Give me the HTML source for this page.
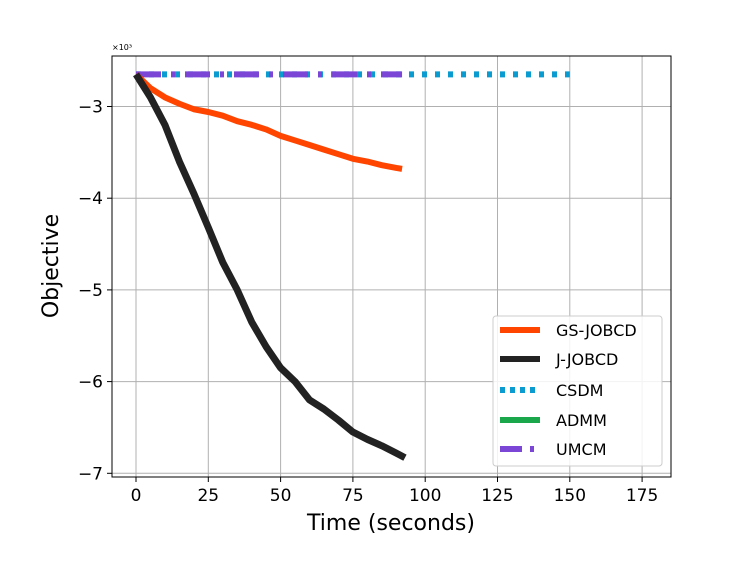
<!DOCTYPE html>
<html><head><meta charset="utf-8"><style>
body{margin:0;background:#fff;font-family:"DejaVu Sans","Liberation Sans",sans-serif}
</style></head><body>
<svg id="chart" width="747" height="561" xmlns="http://www.w3.org/2000/svg">
<g id="grid"></g>
<g id="series"></g>
<rect x="112" y="56" width="559" height="421" fill="none" stroke="#000" stroke-width="1"/>
<g id="ticks" font-size="17"></g>
<text x="112" y="50" font-size="8">×10³</text>
<text x="391" y="530" font-size="22" text-anchor="middle">Time (seconds)</text>
<text transform="translate(58,266) rotate(-90)" font-size="22" text-anchor="middle">Objective</text>
<g>
<rect x="493" y="316" width="169" height="150" rx="3" fill="#fff" fill-opacity="0.85" stroke="#ccc"/>
<g><line x1="500" y1="330" x2="540" y2="330" stroke="#ff4500" stroke-width="6"/><text x="556" y="336" font-size="16">GS-JOBCD</text></g>
<g><line x1="500" y1="359" x2="540" y2="359" stroke="#222" stroke-width="6"/><text x="556" y="365" font-size="16">J-JOBCD</text></g>
<g><line x1="500" y1="390" x2="540" y2="390" stroke="#0a9bd0" stroke-width="6" stroke-dasharray="5,5"/><text x="556" y="396" font-size="16">CSDM</text></g>
<g><line x1="500" y1="420" x2="540" y2="420" stroke="#1aa64a" stroke-width="6"/><text x="556" y="426" font-size="16">ADMM</text></g>
<g><line x1="500" y1="449" x2="540" y2="449" stroke="#7b46d6" stroke-width="6" stroke-dasharray="22,8,4,8"/><text x="556" y="455" font-size="16">UMCM</text></g>
</g>
</svg>
<script>
const xTicks=[0,25,50,75,100,125,150,175];
const yTicks=[-3,-4,-5,-6,-7];
const yTickLabels=["−3","−4","−5","−6","−7"];
const gsT=[0,5,10,15,20,25,30,35,40,45,50,55,60,65,70,75,80,85,90,92];
const gsV=[-2.65,-2.8,-2.9,-2.97,-3.03,-3.06,-3.1,-3.16,-3.2,-3.25,-3.32,-3.37,-3.42,-3.47,-3.52,-3.57,-3.6,-3.64,-3.67,-3.68];
const jT=[0,5,10,15,20,25,30,35,40,45,50,55,60,65,70,75,80,85,90,93];
const jV=[-2.65,-2.9,-3.2,-3.6,-3.95,-4.32,-4.7,-5.0,-5.35,-5.62,-5.85,-6.0,-6.2,-6.3,-6.42,-6.55,-6.63,-6.7,-6.78,-6.83];
const csT=[0,150];const csV=[-2.65,-2.65];
const umT=[0,92];const umV=[-2.65,-2.65];
const X=t=>136+t*72.3/25;
const Y=v=>106.5+(-3-v)*91.7;
const NS="http://www.w3.org/2000/svg";
function mk(tag,attrs,parent){const e=document.createElementNS(NS,tag);for(const k in attrs)e.setAttribute(k,attrs[k]);parent.appendChild(e);return e;}
const grid=document.getElementById('grid'),ticks=document.getElementById('ticks'),ser=document.getElementById('series');
xTicks.forEach(t=>{
 const l=mk('line',{x1:X(t),x2:X(t),y1:56,y2:477,stroke:'#b0b0b0','stroke-width':1},grid);
 
 
 mk('line',{x1:X(t),x2:X(t),y1:477,y2:482,stroke:'#000'},ticks);
 const tx=mk('text',{x:X(t),y:501,'text-anchor':'middle'},ticks);tx.textContent=t;
 
 
});
yTicks.forEach((v,i)=>{
 const l=mk('line',{x1:112,x2:671,y1:Y(v),y2:Y(v),stroke:'#b0b0b0','stroke-width':1},grid);
 
 
 mk('line',{x1:107,x2:112,y1:Y(v),y2:Y(v),stroke:'#000'},ticks);
 const tx=mk('text',{x:103,y:Y(v)+6,'text-anchor':'end'},ticks);tx.textContent=yTickLabels[i];
 
 
});
function line(T,V,attrs,name){
 const p=mk('polyline',Object.assign({points:T.map((t,i)=>X(t)+','+Y(V[i])).join(' '),fill:'none','stroke-linejoin':'round'},attrs),ser);
 
 
}
line(csT,csV,{stroke:'#0a9bd0','stroke-width':6,'stroke-dasharray':'5,8'},'csdm-line');
line(umT,umV,{stroke:'#7b46d6','stroke-width':6,'stroke-dasharray':'25,10,4,10'},'umcm-line');
line(gsT,gsV,{stroke:'#ff4500','stroke-width':6},'gs-jobcd-line');
line(jT,jV,{stroke:'#222','stroke-width':7},'j-jobcd-line');
</script>
</body></html>
